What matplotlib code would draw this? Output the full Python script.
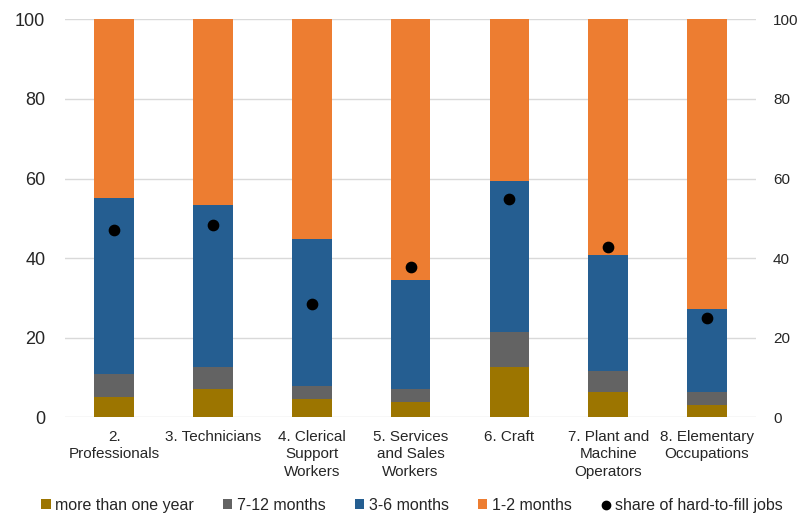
import matplotlib
matplotlib.use('Agg')
import matplotlib.pyplot as plt
import numpy as np
from matplotlib.lines import Line2D
from matplotlib.patches import Patch

plt.rcParams['font.family'] = ['Liberation Sans', 'DejaVu Sans']

occupations = ['2.\nProfessionals', '3. Technicians', '4. Clerical\nSupport\nWorkers',
               '5. Services\nand Sales\nWorkers', '6. Craft', '7. Plant and\nMachine\nOperators',
               '8. Elementary\nOccupations']
more_than_year = [5.1, 7.1, 4.7, 3.9, 12.7, 6.4, 3.1]
months_7_12 = [5.7, 5.5, 3.2, 3.2, 8.7, 5.2, 3.2]
months_3_6 = [44.4, 40.7, 36.9, 27.3, 38.0, 29.2, 20.9]
months_1_2 = [44.8, 46.7, 55.2, 65.6, 40.6, 59.2, 72.8]
hard_to_fill = [47.0, 48.4, 28.6, 37.7, 54.9, 42.9, 24.9]

series = [
    ('more than one year', more_than_year, '#9C7500'),
    ('7-12 months', months_7_12, '#636363'),
    ('3-6 months', months_3_6, '#255E91'),
    ('1-2 months', months_1_2, '#ED7D31'),
]

fig = plt.figure(figsize=(8, 5.16), dpi=100)
ax = fig.add_axes([0.081, 0.191, 0.8645, 0.7716])
x = np.arange(len(occupations))
bottom = np.zeros(len(occupations))
handles = []
for name, vals, col in series:
    ax.bar(x, vals, bottom=bottom, width=0.4, color=col, zorder=2)
    bottom += np.array(vals)
    handles.append(Patch(facecolor=col, label=name))

ax.scatter(x, hard_to_fill, s=55, color='black', zorder=3)
handles.append(Line2D([], [], marker='o', color='black', linestyle='none',
                      markersize=6, label='share of hard-to-fill jobs'))

ax.set_xlim(-0.5, len(occupations) - 0.5)
ax.set_ylim(0, 100)
ax.set_yticks(range(0, 101, 20))
ax.grid(axis='y', color='#D9D9D9', linewidth=1, zorder=0)
for s in ax.spines.values():
    s.set_visible(False)
ax.tick_params(axis='both', length=0)
ax.tick_params(axis='y', labelsize=13, pad=14, labelcolor='#262626')
ax.set_xticks(x)
ax.set_xticklabels(occupations, fontsize=11, color='#262626', linespacing=1.3)
ax.tick_params(axis='x', pad=9)

ax2 = ax.twinx()
ax2.set_ylim(0, 100)
ax2.set_yticks(range(0, 101, 20))
for s in ax2.spines.values():
    s.set_visible(False)
ax2.tick_params(axis='y', length=0, labelsize=11, pad=12, labelcolor='#262626')

fig.legend(handles=handles, loc='lower center', bbox_to_anchor=(0.515, -0.022), ncol=5,
           frameon=False, fontsize=11.5, handlelength=0.6, handleheight=0.6,
           handletextpad=0.3, columnspacing=1.8, labelcolor='#262626')

fig.savefig('out.png', dpi=100)
